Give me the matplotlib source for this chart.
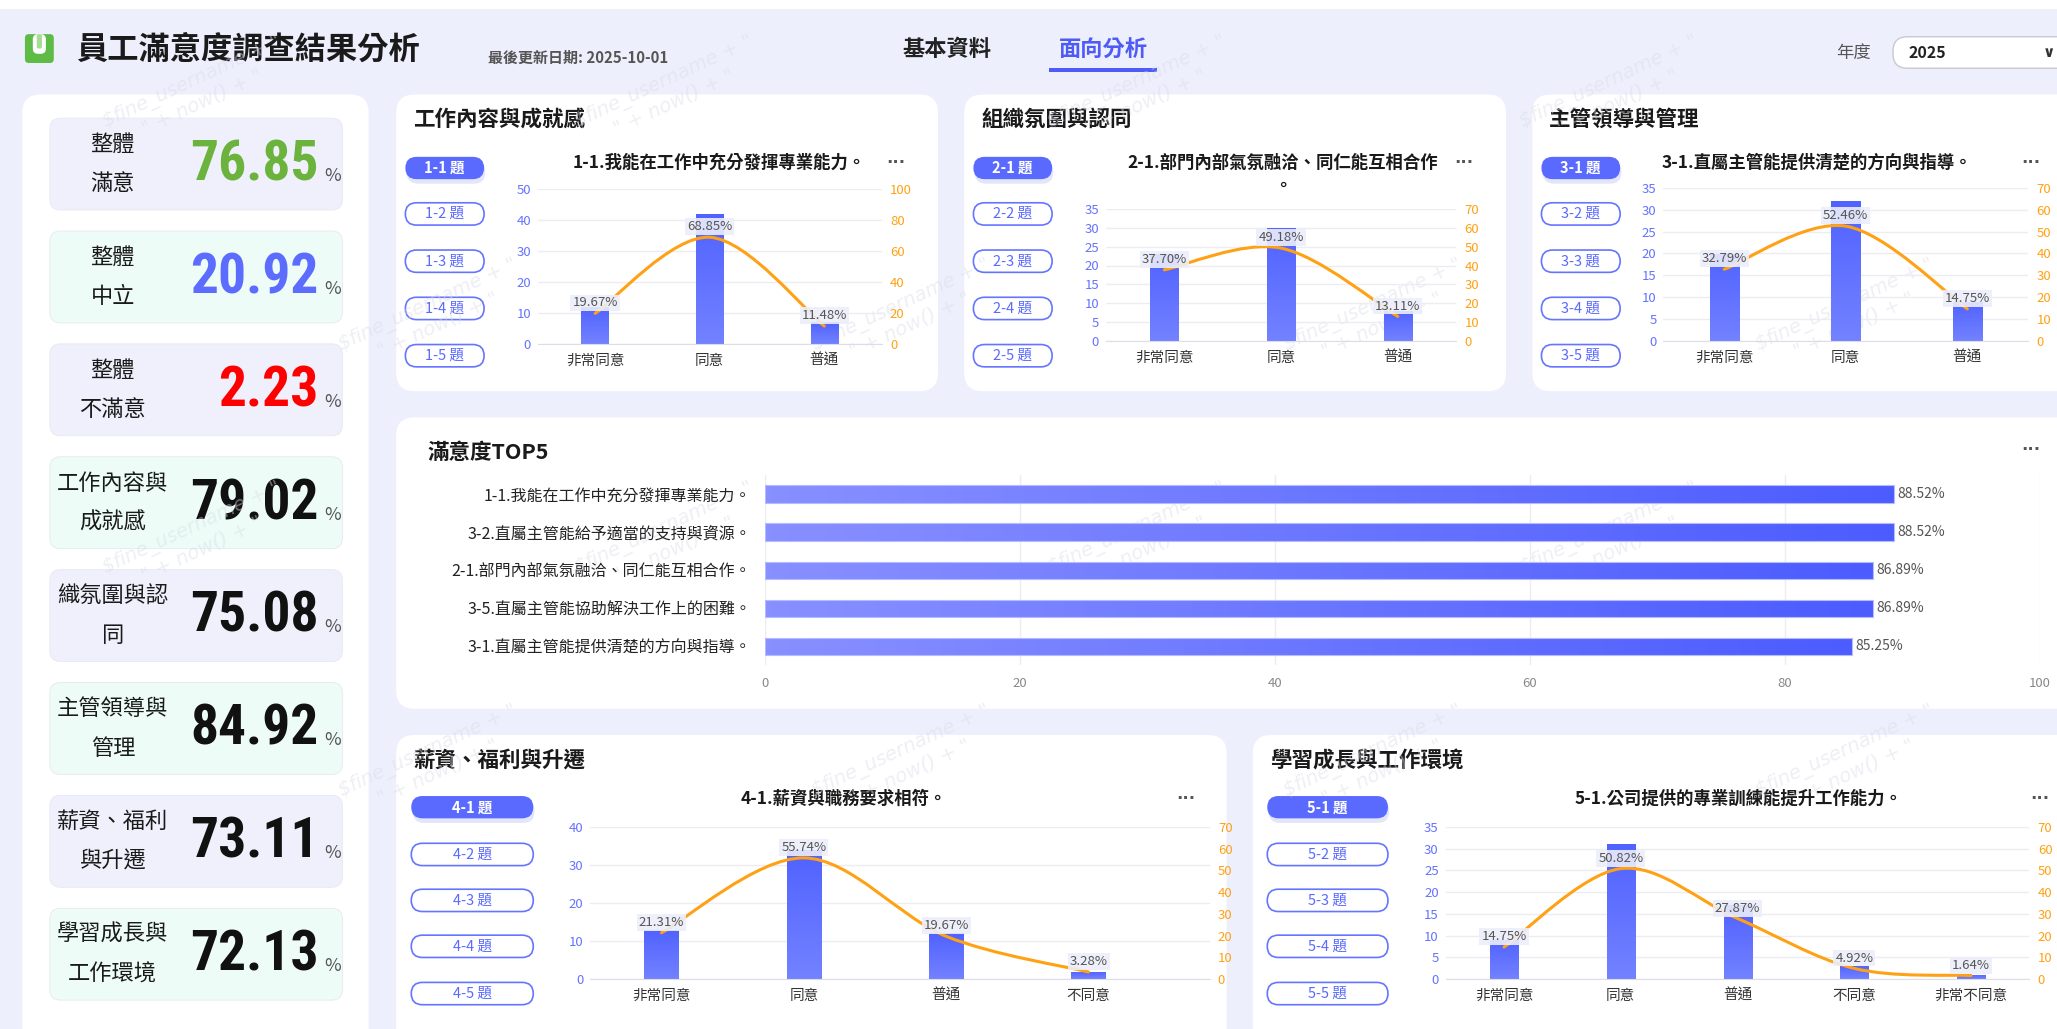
import os
import numpy as np
import matplotlib.pyplot as plt
from matplotlib import font_manager as fm
from matplotlib.patches import FancyBboxPatch, Rectangle, PathPatch
from matplotlib.path import Path
from matplotlib.colors import LinearSegmentedColormap

plt.rcParams['font.family'] = ['Noto Sans CJK TC', 'DejaVu Sans']

# layout units: the figure (2057x1029 px) is mapped onto a 1568x784 grid
W, H = 1568, 784

# ---------------- data ----------------
kpi_labels = ['整體\n滿意', '整體\n中立', '整體\n不滿意', '工作內容與\n成就感',
              '織氛圍與認\n同', '主管領導與\n管理', '薪資、福利\n與升遷', '學習成長與\n工作環境']
kpi_values = [76.85, 20.92, 2.23, 79.02, 75.08, 84.92, 73.11, 72.13]

cats3 = ['非常同意', '同意', '普通']
cats4 = ['非常同意', '同意', '普通', '不同意']
cats5 = ['非常同意', '同意', '普通', '不同意', '非常不同意']

q1_counts = [12, 42, 7]
q1_pct = [19.67, 68.85, 11.48]
q2_counts = [23, 30, 8]
q2_pct = [37.70, 49.18, 13.11]
q3_counts = [20, 32, 9]
q3_pct = [32.79, 52.46, 14.75]
q4_counts = [13, 34, 12, 2]
q4_pct = [21.31, 55.74, 19.67, 3.28]
q5_counts = [9, 31, 17, 3, 1]
q5_pct = [14.75, 50.82, 27.87, 4.92, 1.64]

section_titles = ['工作內容與成就感', '組織氛圍與認同', '主管領導與管理', '薪資、福利與升遷', '學習成長與工作環境']
question_titles = ['1-1.我能在工作中充分發揮專業能力。',
                   '2-1.部門內部氣氛融洽、同仁能互相合作\n。',
                   '3-1.直屬主管能提供清楚的方向與指導。',
                   '4-1.薪資與職務要求相符。',
                   '5-1.公司提供的專業訓練能提升工作能力。']

top5_labels = ['1-1.我能在工作中充分發揮專業能力。', '3-2.直屬主管能給予適當的支持與資源。',
               '2-1.部門內部氣氛融洽、同仁能互相合作。', '3-5.直屬主管能協助解決工作上的困難。',
               '3-1.直屬主管能提供清楚的方向與指導。']
top5_values = [88.52, 88.52, 86.89, 86.89, 85.25]

# ---------------- styles ----------------
BG = '#EDEFFC'
ORANGE = '#FFA114'
kpi_colors = ['#6CB33E', '#5B6CFF', '#FF0000', '#111111', '#111111', '#111111', '#111111', '#111111']
card_colors = ['#EFF0FC', '#EDFCF6'] * 4


def pick_number_font():
    files = [f.fname for f in fm.fontManager.ttflist]
    bases = {}
    for p in files:
        b = os.path.basename(p)
        if 'Mono' in b or 'Italic' in b or 'Serif' in b:
            continue
        bases.setdefault(b, p)
    for name, size in [('NotoSans-ExtraCondensedBold.ttf', 45), ('NotoSans-CondensedBold.ttf', 40),
                       ('LiberationSansNarrow-Bold.ttf', 40), ('Roboto-CondensedBold.ttf', 40),
                       ('RobotoCondensed-Bold.ttf', 40), ('OpenSans-CondensedBold.ttf', 40)]:
        if name in bases:
            return fm.FontProperties(fname=bases[name], size=size)
    for key, size in [('ExtraCondensedBold', 45), ('CondensedBold', 40), ('Condensed-Bold', 40)]:
        hits = sorted(p for b, p in bases.items() if key in b and 'Semi' not in b)
        if hits:
            return fm.FontProperties(fname=hits[0], size=size)
    return fm.FontProperties(family='Liberation Sans', weight='bold', size=38)


num_fp = pick_number_font()

bar_cmap = LinearSegmentedColormap.from_list('bars', ['#7382FF', '#5062FF'])
hbar_cmap = LinearSegmentedColormap.from_list('hbars', ['#8890FF', '#4C5CFF'])

fig = plt.figure(figsize=(20.57, 10.29), dpi=100)
fig.patch.set_facecolor(BG)
bg = fig.add_axes([0, 0, 1, 1])
bg.set_xlim(0, W)
bg.set_ylim(H, 0)
bg.axis('off')


def rbox(x0, y0, x1, y1, fc, ec='none', r=12, lw=1.0, z=1):
    p = FancyBboxPatch((x0, y0), x1 - x0, y1 - y0,
                       boxstyle=f'round,pad=0,rounding_size={r}',
                       fc=fc, ec=ec, lw=lw, zorder=z)
    bg.add_patch(p)
    return p


def add_ax(x0, y0, x1, y1):
    return fig.add_axes([x0 / W, 1 - y1 / H, (x1 - x0) / W, (y1 - y0) / H])


def smooth_path(x, y):
    pts = np.column_stack([x, y]).astype(float)
    ext = np.vstack([pts[0], pts, pts[-1]])
    verts, codes = [pts[0]], [Path.MOVETO]
    for i in range(len(pts) - 1):
        p0, p1, p2, p3 = ext[i], ext[i + 1], ext[i + 2], ext[i + 3]
        verts += [p1 + (p2 - p0) / 6, p2 - (p3 - p1) / 6, p2]
        codes += [Path.CURVE4] * 3
    return Path(verts, codes)


# ---------------- watermark ----------------
for row, wy in enumerate(range(70, 700, 170)):
    for wx in range(150 + (row % 2) * 180, 1450, 360):
        bg.text(wx, wy, '$fine_username + "\n" + now() + "', rotation=25, fontsize=14,
                color='#DADCE8', alpha=0.45, ha='center', va='center', zorder=50,
                family='DejaVu Sans', style='italic')

# ---------------- header ----------------
bg.add_patch(Rectangle((0, 0), W, 7, fc='white', ec='none', zorder=0.5))
rbox(19, 26, 41, 48, '#5DBB46', r=3, z=2)
rbox(25, 26, 35, 41, 'white', r=4, z=3)
rbox(28, 26, 32, 37, '#A8DC95', r=1.5, z=4)
bg.text(58, 38, '員工滿意度調查結果分析', fontsize=22.5, fontweight='bold', color='#1A1A1A', va='center')
bg.text(372, 44, '最後更新日期: 2025-10-01', fontsize=10.8, fontweight='bold', color='#555555', va='center')
bg.text(722, 38, '基本資料', fontsize=16, fontweight='bold', color='#222222', va='center', ha='center')
bg.text(841, 38, '面向分析', fontsize=16, fontweight='bold', color='#4F5BF5', va='center', ha='center')
bg.add_patch(Rectangle((800, 52), 82, 3, fc='#4F5BF5', ec='none', zorder=2))
bg.text(1413, 40, '年度', fontsize=12.5, color='#555555', va='center', ha='center')
rbox(1443, 28, 1600, 52, 'white', ec='#C8C8D0', r=11, lw=1, z=2)
bg.text(1455, 40, '2025', fontsize=11.5, fontweight='bold', color='#222222', va='center', zorder=3)
bg.text(1562, 40, '∨', fontsize=11, fontweight='bold', color='#333333', va='center', ha='center',
        zorder=3, family='DejaVu Sans')

# ---------------- KPI panel ----------------
rbox(17, 72, 281, 820, 'white', r=14)
for i, (lab, val) in enumerate(zip(kpi_labels, kpi_values)):
    top = 90 + 86 * i
    cy = top + 35
    rbox(38, top, 261, top + 70, card_colors[i], ec='#E6E8F4', r=8, lw=0.6, z=2)
    lines = lab.split('\n')
    for j, ln in enumerate(lines):
        bg.text(86, cy + (j - (len(lines) - 1) / 2) * 30, ln, fontsize=16, color='#1A1A1A',
                ha='center', va='center', zorder=3)
    bg.text(243, cy + 1, f'{val:.2f}', color=kpi_colors[i], fontproperties=num_fp,
            ha='right', va='center', zorder=3)
    bg.text(247, cy + 9, '%', fontsize=13, color='#555555', ha='left', va='center', zorder=3)


# ---------------- combo charts ----------------
def combo(rect, cats, counts, pct, ymax, ystep, rmax, rstep, xpad=0.0):
    x0, y0, x1, y1 = rect
    ax = add_ax(x0, y0, x1, y1)
    ax.patch.set_alpha(0)
    xs = np.arange(len(cats))
    bars = ax.bar(xs, counts, width=0.24, color='none', ec='none', zorder=2)
    grad = np.linspace(0, 1, 100).reshape(-1, 1)
    for b in bars:
        bx, bw, bh = b.get_x(), b.get_width(), b.get_height()
        im = ax.imshow(grad, extent=[bx, bx + bw, 0, bh], cmap=bar_cmap, aspect='auto',
                       origin='lower', zorder=2)
        im.set_clip_path(b)
    ax.set_xlim(-0.5, len(cats) - 0.5 + xpad)
    ax.set_ylim(0, ymax)
    ax.set_yticks(np.arange(0, ymax + 0.1, ystep))
    ax.grid(axis='y', color='#ECECF2', lw=1)
    ax.set_axisbelow(True)
    for s in ['top', 'right', 'left']:
        ax.spines[s].set_visible(False)
    ax.spines['bottom'].set_color('#DCDDE8')
    ax.tick_params(axis='y', length=0, labelsize=9.5, labelcolor='#6573FF', pad=5)
    ax.set_xticks(xs, cats)
    ax.tick_params(axis='x', length=0, labelsize=10.5, labelcolor='#333333', pad=7)
    for t in ax.get_xticklabels():
        t.set_fontweight('medium')

    ax2 = ax.twinx()
    ax2.set_ylim(0, rmax)
    ax2.set_yticks(np.arange(0, rmax + 0.1, rstep))
    ax2.tick_params(axis='y', length=0, labelsize=9.5, labelcolor=ORANGE, pad=6)
    for s in ax2.spines.values():
        s.set_visible(False)
    ax2.add_patch(PathPatch(smooth_path(xs, pct), fc='none', ec=ORANGE, lw=2.2, zorder=3,
                            capstyle='round'))
    for xi, p in zip(xs, pct):
        ax2.annotate(f'{p:.2f}%', (xi, p), xytext=(0, 7.5), textcoords='offset points',
                     ha='center', va='center', fontsize=9.5, color='#555555', zorder=5,
                     bbox=dict(boxstyle='square,pad=0.15', fc='#ECEEFA', ec='none', alpha=0.9))
    return ax


def section(px0, py0, px1, title, qtitle, grp, pill_x, pill_w, pill_ys, qx, dots_x, qy):
    rbox(px0, py0, px1, py0 + 226 if py0 < 300 else 820, 'white', r=14)
    bg.text(px0 + 13, py0 + 19, title, fontsize=15.5, fontweight='bold', color='#1A1A1A', va='center')
    for k, py in enumerate(pill_ys):
        lab = f'{grp}-{k + 1} 題'
        if k == 0:
            rbox(pill_x - pill_w / 2 + 1, py - 6, pill_x + pill_w / 2 + 1, py + 12, '#E3E6FB',
                 r=9, z=1.5)
            rbox(pill_x - pill_w / 2, py - 8.5, pill_x + pill_w / 2, py + 8.5, '#5A6AFF', r=8.5, z=2)
            bg.text(pill_x, py, lab, fontsize=10.5, fontweight='bold', color='white',
                    ha='center', va='center', zorder=3)
        else:
            rbox(pill_x - pill_w / 2, py - 8.5, pill_x + pill_w / 2, py + 8.5, 'white',
                 ec='#6575FF', r=8.5, lw=1.2, z=2)
            bg.text(pill_x, py, lab, fontsize=10.5, fontweight='medium', color='#5A6AFF',
                    ha='center', va='center', zorder=3)
    bg.text(qx, qy, qtitle, fontsize=12.5, fontweight='bold', color='#1A1A1A',
            ha='center', va='top', zorder=3, linespacing=1.35)
    bg.text(dots_x, qy + 7, '···', fontsize=12, fontweight='bold', color='#555555',
            ha='center', va='center', zorder=3, family='DejaVu Sans')


top_pills = [128, 163, 199, 235, 271]
bot_pills = [615, 651, 686, 721, 757]

section(302, 72, 715, section_titles[0], question_titles[0], 1, 339, 60, top_pills, 548, 683, 117)
combo((410, 144, 672, 262), cats3, q1_counts, q1_pct, 50, 10, 100, 20)

section(735, 72, 1148, section_titles[1], question_titles[1], 2, 772, 60, top_pills, 978, 1116, 117)
combo((843, 159, 1110, 260), cats3, q2_counts, q2_pct, 35, 5, 70, 10)

section(1168, 72, 1600, section_titles[2], question_titles[2], 3, 1205, 60, top_pills, 1385, 1548, 117)
combo((1268, 143, 1546, 260), cats3, q3_counts, q3_pct, 35, 5, 70, 10)

section(302, 560, 935, section_titles[3], question_titles[3], 4, 360, 93, bot_pills, 643, 904, 602)
combo((450, 630, 922, 746), cats4, q4_counts, q4_pct, 40, 10, 70, 10, xpad=0.35)

section(955, 560, 1600, section_titles[4], question_titles[4], 5, 1012, 92, bot_pills, 1325, 1555, 602)
combo((1102, 630, 1547, 746), cats5, q5_counts, q5_pct, 35, 5, 70, 10)

# ---------------- TOP5 ----------------
rbox(302, 318, 1600, 540, 'white', r=14)
bg.text(326, 345, '滿意度TOP5', fontsize=15.5, fontweight='bold', color='#1A1A1A', va='center')
bg.text(1548, 343, '···', fontsize=12, fontweight='bold', color='#555555', ha='center', va='center',
        family='DejaVu Sans')

axt = add_ax(583, 362, 1555, 507)
axt.patch.set_alpha(0)
yy = np.arange(len(top5_labels))
hb = axt.barh(yy, top5_values, height=0.46, color='none', ec='#B4BCFF', lw=0.8, zorder=3)
hgrad = np.linspace(0, 1, 200).reshape(1, -1)
for b in hb:
    bx, by, bw, bh = b.get_x(), b.get_y(), b.get_width(), b.get_height()
    im = axt.imshow(hgrad, extent=[0, bw, by + bh, by], cmap=hbar_cmap, aspect='auto', zorder=2)
    im.set_clip_path(b)
    axt.text(bw + 0.3, by + bh / 2, f'{bw:.2f}%', fontsize=10, color='#555555', va='center', ha='left')
axt.set_xlim(0, 100)
axt.set_ylim(len(top5_labels) - 0.5, -0.5)
axt.set_xticks(np.arange(0, 101, 20))
axt.set_yticks(yy, top5_labels)
axt.grid(axis='x', color='#ECECF2', lw=1)
axt.set_axisbelow(True)
for s in axt.spines.values():
    s.set_visible(False)
axt.tick_params(axis='y', length=0, labelsize=11.5, labelcolor='#222222', pad=10)
axt.tick_params(axis='x', length=0, labelsize=9.5, labelcolor='#888888', pad=8)

fig.savefig('out.png', dpi=100, facecolor=BG)
